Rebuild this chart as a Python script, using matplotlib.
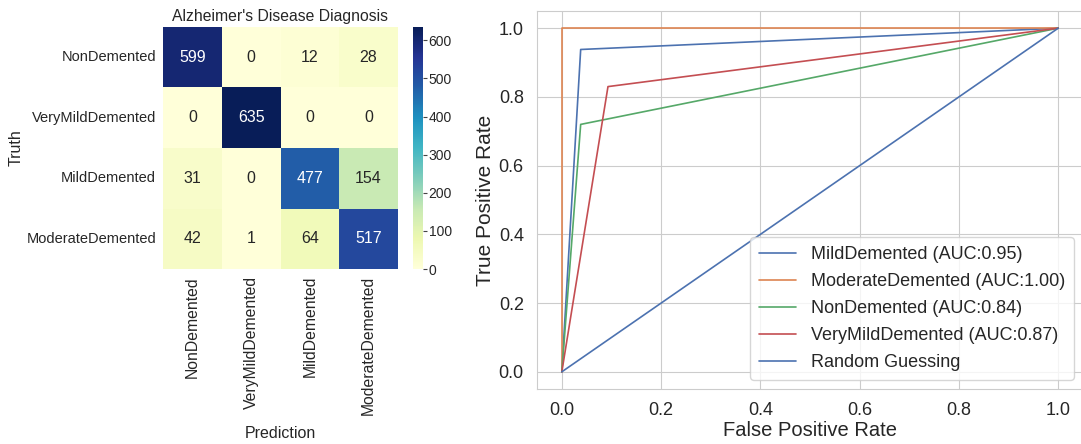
import numpy as np
import matplotlib
matplotlib.use('Agg')
import matplotlib.pyplot as plt
import seaborn as sns

## Datos
clases = ['NonDemented', 'VeryMildDemented', 'MildDemented', 'ModerateDemented']
matriz = np.array([[599, 0, 12, 28],
                   [0, 635, 0, 0],
                   [31, 0, 477, 154],
                   [42, 1, 64, 517]])

# Curvas ROC (fpr, tpr) por clase
roc_nombres = ['MildDemented', 'ModerateDemented', 'NonDemented', 'VeryMildDemented']
roc_fpr = [[0, 0.038, 1], [0, 0, 1], [0, 0.038, 1], [0, 0.093, 1]]
roc_tpr = [[0, 0.938, 1], [0, 1, 1], [0, 0.72, 1], [0, 0.83, 1]]
roc_auc = [0.95, 1.00, 0.84, 0.87]
azar = [0, 1]

sns.set_style('whitegrid')
plt.rcParams['font.family'] = ['Liberation Sans', 'DejaVu Sans']
colores = sns.color_palette('deep')

fig = plt.figure(figsize=(10.81, 4.44), dpi=100)

## Matriz de confusion
ax1 = fig.add_axes([163/1081, 1-269/444, 235/1081, 242/444])
cax = fig.add_axes([413/1081, 1-269/444, 10/1081, 242/444])
sns.heatmap(matriz, annot=True, fmt='d', cmap='YlGnBu', vmin=0, vmax=635,
            xticklabels=clases, yticklabels=clases, ax=ax1, cbar_ax=cax,
            annot_kws={'fontsize': 11.5})
ax1.set_title("Alzheimer's Disease Diagnosis", fontsize=11.3, pad=4)
ax1.set_xlabel('Prediction', fontsize=11.5, labelpad=8)
ax1.set_ylabel('Truth', fontsize=11.5, labelpad=2)
ax1.tick_params(axis='y', labelsize=10.5, length=0, pad=5)
ax1.tick_params(axis='x', labelsize=11.3, length=0, pad=5)
plt.setp(ax1.get_xticklabels(), rotation=90)
plt.setp(ax1.get_yticklabels(), rotation=0)
cax.tick_params(labelsize=10, length=3, width=0.8, pad=1, colors='#444444')
for lab in cax.get_yticklabels():
    lab.set_color('#262626')
cax.set_yticks([0, 100, 200, 300, 400, 500, 600])

## Curvas ROC
ax2 = fig.add_axes([537/1081, 1-389/444, 546/1081, 378/444])
for i in range(len(roc_nombres)):
    ax2.plot(roc_fpr[i], roc_tpr[i], color=colores[i], lw=1.2,
             label='%s (AUC:%.2f)' % (roc_nombres[i], roc_auc[i]))
ax2.plot(azar, azar, color=colores[0], lw=1.2, label='Random Guessing')
ax2.set_xlim(-0.05, 1.05)
ax2.set_ylim(-0.05, 1.05)
ax2.set_xlabel('False Positive Rate', fontsize=14.5, labelpad=1)
ax2.set_ylabel('True Positive Rate', fontsize=15, labelpad=3)
ax2.tick_params(axis='both', labelsize=13, pad=6)
ax2.legend(loc='lower right', fontsize=13, labelspacing=0.55,
           handlelength=2.05, handletextpad=0.8, borderpad=0.5)

plt.savefig('out.png', dpi=100)
